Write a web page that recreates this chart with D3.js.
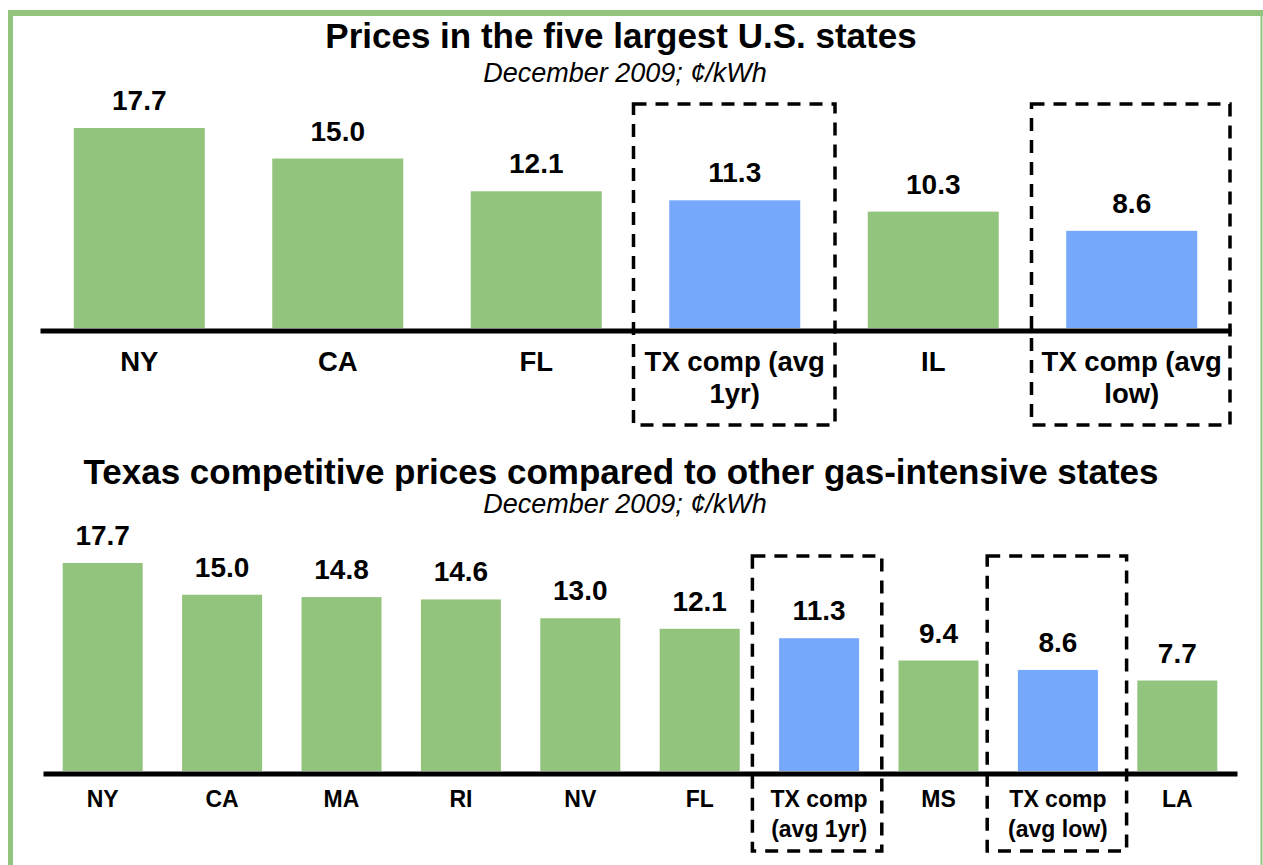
<!DOCTYPE html>
<html>
<head>
<meta charset="utf-8">
<script src="https://cdn.jsdelivr.net/npm/d3@7"></script>
<style>
  body { margin: 0; background: #fff; }
  svg { display: block; font-family: "Liberation Sans", Arial, sans-serif; }
</style>
</head>
<body>
<div id="chart"></div>
<script>
// chart data
const topCategories = ["NY", "CA", "FL", "TX comp (avg 1yr)", "IL", "TX comp (avg low)"];
const topValues = [17.7, 15.0, 12.1, 11.3, 10.3, 8.6];
const topTickLabels = [["NY"], ["CA"], ["FL"], ["TX comp (avg", "1yr)"], ["IL"], ["TX comp (avg", "low)"]];

const bottomCategories = ["NY", "CA", "MA", "RI", "NV", "FL", "TX comp (avg 1yr)", "MS", "TX comp (avg low)", "LA"];
const bottomValues = [17.7, 15.0, 14.8, 14.6, 13.0, 12.1, 11.3, 9.4, 8.6, 7.7];
const bottomTickLabels = [["NY"], ["CA"], ["MA"], ["RI"], ["NV"], ["FL"], ["TX comp", "(avg 1yr)"], ["MS"], ["TX comp", "(avg low)"], ["LA"]];

const highlighted = ["TX comp (avg 1yr)", "TX comp (avg low)"];

const W = 1263, H = 865;
const green = "#93c47d", blue = "#76a8fc";

const svg = d3.select("#chart").append("svg")
  .attr("width", W)
  .attr("height", H);

// green frame (top, left, thin right edge)
svg.append("line").attr("x1", 8).attr("x2", W).attr("y1", 13).attr("y2", 13)
  .attr("stroke", green).attr("stroke-width", 6);
svg.append("line").attr("x1", 10.5).attr("x2", 10.5).attr("y1", 10).attr("y2", H)
  .attr("stroke", green).attr("stroke-width", 5);
svg.append("line").attr("x1", 1261.5).attr("x2", 1261.5).attr("y1", 10).attr("y2", H)
  .attr("stroke", green).attr("stroke-width", 2);

function drawPanel(cfg) {
  const g = svg.append("g");

  g.append("text")
    .attr("x", 621).attr("y", cfg.titleY)
    .attr("text-anchor", "middle")
    .attr("font-size", 35).attr("font-weight", "bold")
    .text(cfg.title);

  g.append("text")
    .attr("x", 625).attr("y", cfg.subtitleY)
    .attr("text-anchor", "middle")
    .attr("font-size", 27).attr("font-style", "italic")
    .text("December 2009; ¢/kWh");

  const x = d3.scaleBand()
    .domain(cfg.categories)
    .range(cfg.xRange)
    .paddingInner(cfg.pad)
    .paddingOuter(cfg.pad / 2);

  const y = d3.scaleLinear()
    .domain([0, 17.7])
    .range([cfg.baseline, cfg.top]);

  const data = cfg.categories.map((c, i) => ({ cat: c, value: cfg.values[i], lines: cfg.tickLabels[i] }));

  // dashed boxes around the Texas columns
  const half = x.step() * x.paddingInner() / 2;
  g.selectAll(".box")
    .data(data.filter(d => highlighted.includes(d.cat)))
    .enter().append("rect")
    .attr("x", (d, i) => x(d.cat) - half - cfg.boxPad[i][0])
    .attr("width", (d, i) => x.step() + cfg.boxPad[i][0] + cfg.boxPad[i][1])
    .attr("y", cfg.boxY[0])
    .attr("height", cfg.boxY[1] - cfg.boxY[0])
    .attr("fill", "none")
    .attr("stroke", "#000")
    .attr("stroke-width", 3.5)
    .attr("stroke-dasharray", "13,9");

  g.selectAll(".bar")
    .data(data)
    .enter().append("rect")
    .attr("class", "bar")
    .attr("x", d => x(d.cat))
    .attr("y", d => y(d.value))
    .attr("width", x.bandwidth())
    .attr("height", d => y(0) - y(d.value))
    .attr("fill", d => highlighted.includes(d.cat) ? blue : green);

  g.selectAll(".val")
    .data(data)
    .enter().append("text")
    .attr("x", d => x(d.cat) + x.bandwidth() / 2)
    .attr("y", d => y(d.value) - 18)
    .attr("text-anchor", "middle")
    .attr("font-size", 28).attr("font-weight", "bold")
    .text(d => d.value.toFixed(1));

  // category axis: thick baseline, no ticks, wrapped labels
  const axis = g.append("g")
    .attr("transform", `translate(0,${cfg.baseline + 2.5})`)
    .call(d3.axisBottom(x).tickSize(0).tickSizeOuter(0).tickPadding(0));

  axis.select(".domain")
    .attr("stroke", "#000")
    .attr("stroke-width", 5);

  axis.selectAll(".tick text").remove();
  axis.selectAll(".tick").each(function(cat, i) {
    const t = d3.select(this).append("text")
      .attr("fill", "#000")
      .attr("font-family", "'Liberation Sans', Arial, sans-serif")
      .attr("font-size", cfg.labelSize)
      .attr("font-weight", "bold")
      .attr("text-anchor", "middle");
    cfg.tickLabels[i].forEach((line, j) => {
      t.append("tspan")
        .attr("x", 0)
        .attr("y", cfg.labelY - cfg.baseline - 2.5 + j * cfg.lineH)
        .text(line);
    });
  });
}

drawPanel({
  title: "Prices in the five largest U.S. states",
  titleY: 48, subtitleY: 82,
  categories: topCategories, values: topValues, tickLabels: topTickLabels,
  xRange: [40, 1231], pad: 0.34,
  baseline: 328, top: 128,
  labelSize: 27.5, labelY: 371, lineH: 32,
  boxY: [104, 425], boxPad: [[2, 1], [1, -1]]
});

drawPanel({
  title: "Texas competitive prices compared to other gas-intensive states",
  titleY: 484, subtitleY: 513,
  categories: bottomCategories, values: bottomValues, tickLabels: bottomTickLabels,
  xRange: [43, 1237], pad: 0.33,
  baseline: 771, top: 563,
  labelSize: 23, labelY: 807, lineH: 30,
  boxY: [556, 851], boxPad: [[7, 3], [11, 9]]
});
</script>
</body>
</html>
